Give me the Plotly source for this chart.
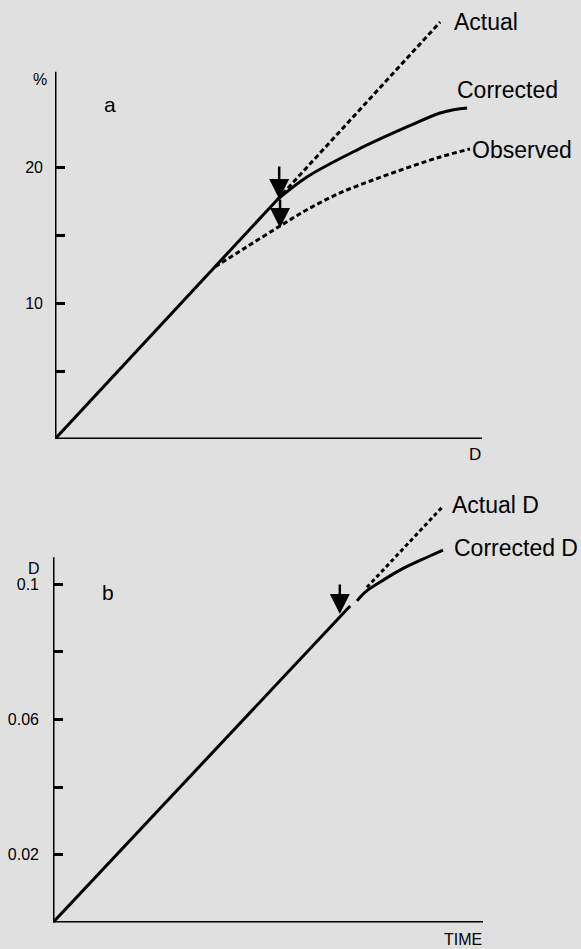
import plotly.graph_objects as go

W, H = 581, 949
BG = "#e0e0e0"
FONT = "Liberation Sans, Arial, Helvetica, sans-serif"

# ---------------- panel a data (x: arbitrary D units 0-100, y: %) ----------------
a_line_x = [0, 52.0]
a_line_y = [0, 17.63]
a_actual_x = [52.0, 90.2]
a_actual_y = [17.63, 30.75]
a_obs_x = [37.5, 44.5, 52.7, 59.3, 66.7, 74.5, 82.4, 90.2, 97.2]
a_obs_y = [12.7, 14.09, 15.71, 16.96, 18.14, 19.10, 19.99, 20.80, 21.39]
a_corr_x = [52.0, 59.0, 70.7, 82.4, 90.2, 93.7, 96.5]
a_corr_y = [17.63, 19.32, 21.31, 23.01, 24.04, 24.30, 24.41]
a_tickvals = [5, 10, 15, 20]
a_ticktext = ["", "10", "", "20"]
a_axis_top = 27.08

# ---------------- panel b data (x: time 0-100, y: D) ----------------
b_line_x = [0, 69.1]
b_line_y = [0, 0.0936]
b_actual_x = [73.0, 90.5]
b_actual_y = [0.0991, 0.1228]
b_corr_x = [70.7, 72.6, 76.0, 80.7, 87.0, 90.7]
b_corr_y = [0.0951, 0.0977, 0.1006, 0.1042, 0.1080, 0.1101]
b_tickvals = [0.02, 0.04, 0.06, 0.08, 0.1]
b_ticktext = ["0.02", "", "0.06", "", "0.1"]
b_axis_top = 0.1080

fig = go.Figure()

solid = dict(color="black", width=3)
dots_a = dict(color="black", width=3, dash="5px,3px")
dots_b = dict(color="black", width=3, dash="4px,3px")

fig.add_trace(go.Scatter(x=a_line_x, y=a_line_y, mode="lines", line=solid, xaxis="x", yaxis="y"))
fig.add_trace(go.Scatter(x=a_actual_x, y=a_actual_y, mode="lines", line=dots_a, xaxis="x", yaxis="y"))
fig.add_trace(go.Scatter(x=a_obs_x, y=a_obs_y, mode="lines", line=dict(dots_a, shape="spline"), xaxis="x", yaxis="y"))
fig.add_trace(go.Scatter(x=a_corr_x, y=a_corr_y, mode="lines", line=dict(solid, shape="spline"), xaxis="x", yaxis="y"))

fig.add_trace(go.Scatter(x=b_line_x, y=b_line_y, mode="lines", line=solid, xaxis="x2", yaxis="y2"))
fig.add_trace(go.Scatter(x=b_actual_x, y=b_actual_y, mode="lines", line=dots_b, xaxis="x2", yaxis="y2"))
fig.add_trace(go.Scatter(x=b_corr_x, y=b_corr_y, mode="lines", line=dict(solid, shape="spline"), xaxis="x2", yaxis="y2"))

def px_x(p):
    return p / W

def px_y(p):
    return 1 - p / H

xcommon = dict(range=[0, 100], showline=False, showgrid=False, zeroline=False,
               showticklabels=False, ticks="", fixedrange=True)
ycommon = dict(showline=False, showgrid=False, zeroline=False, ticks="inside",
               ticklen=10, tickwidth=3, tickcolor="black",
               tickfont=dict(family=FONT, size=16, color="black"), fixedrange=True)

fig.update_layout(
    width=W, height=H,
    margin=dict(l=0, r=0, t=0, b=0),
    paper_bgcolor=BG, plot_bgcolor=BG,
    showlegend=False,
    font=dict(family=FONT, color="black"),
    xaxis=dict(xcommon, domain=[px_x(55), px_x(482)], anchor="y"),
    yaxis=dict(ycommon, domain=[px_y(439), px_y(10)], range=[0, (439 - 10) / 13.56],
               tickvals=a_tickvals, ticktext=a_ticktext, anchor="x", ticklabelstandoff=11),
    xaxis2=dict(xcommon, domain=[px_x(53), px_x(483)], anchor="y2"),
    yaxis2=dict(ycommon, domain=[px_y(922.5), px_y(480)], range=[0, (922.5 - 480) / 3382],
                tickvals=b_tickvals, ticktext=b_ticktext, anchor="x2", ticklabelstandoff=13),
)

# axis lines
axl = dict(color="black", width=3)
fig.add_shape(type="line", xref="x", yref="y", x0=0, x1=0, y0=0, y1=a_axis_top, line=axl)
fig.add_shape(type="line", xref="x", yref="y", x0=0, x1=100, y0=0, y1=0, line=axl)
fig.add_shape(type="line", xref="x2", yref="y2", x0=0, x1=0, y0=0, y1=b_axis_top, line=axl)
fig.add_shape(type="line", xref="x2", yref="y2", x0=0, x1=100, y0=0, y1=0, line=axl)

def label(text, x, y, size, xanchor="left"):
    fig.add_annotation(text=text, xref="paper", yref="paper", x=px_x(x), y=px_y(y),
                       xanchor=xanchor, yanchor="middle", showarrow=False,
                       font=dict(family=FONT, size=size, color="black"))

label("%", 40, 80, 16, "center")
label("a", 110, 104, 21, "center")
label("Actual", 452, 22, 23)
label("Corrected", 455, 90, 23)
label("Observed", 470, 150, 23)
label("D", 483, 455, 17, "right")

label("D", 34, 568, 16, "center")
label("b", 108, 592, 21, "center")
label("Actual D", 450, 505, 23)
label("Corrected D", 452, 548, 23)
label("TIME", 484, 939, 16, "right")

def arrow(x, y, ay, xref, yref):
    fig.add_annotation(text="", x=x, y=y, xref=xref, yref=yref, ax=0, ay=ay,
                       showarrow=True, arrowhead=2, arrowsize=1.6, arrowwidth=2.5,
                       arrowcolor="black", standoff=0)

arrow(52.5, 17.70, -34, "x", "y")
arrow(52.7, 15.56, -30, "x", "y")
arrow(66.7, 0.0912, -31, "x2", "y2")

fig.write_html("out.html", config={"displayModeBar": False},
               post_script="document.body.style.margin='0px';document.body.style.padding='0px';")
